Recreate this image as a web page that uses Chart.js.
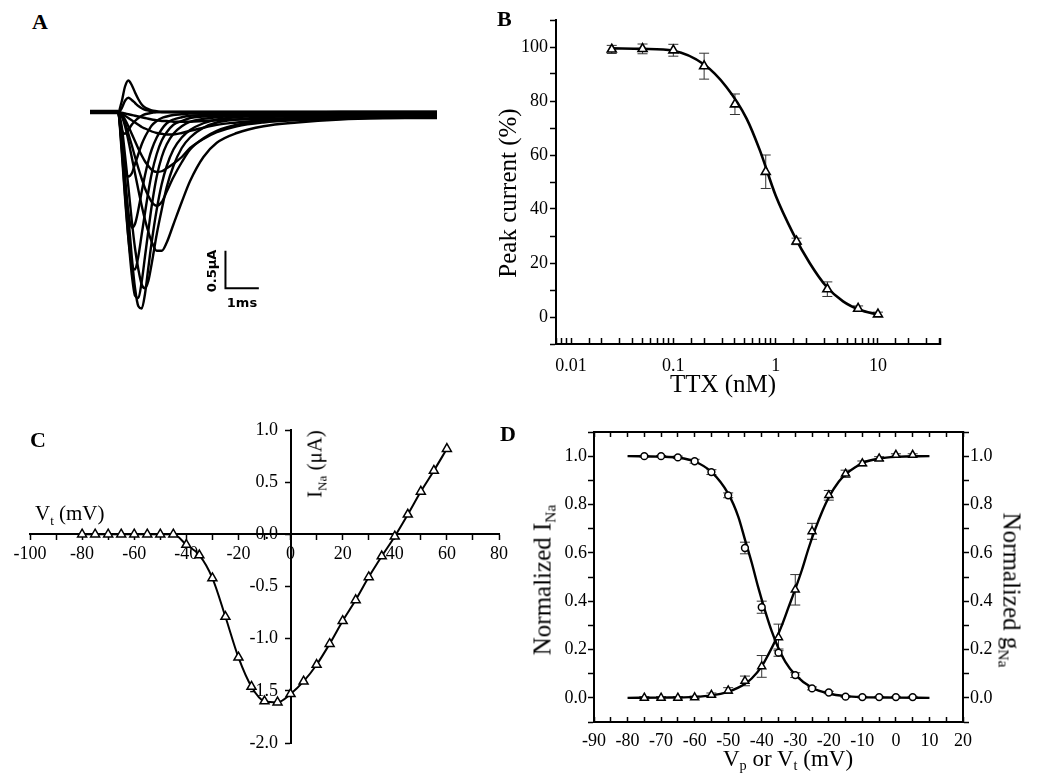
<!DOCTYPE html>
<html>
<head>
<meta charset="utf-8">
<script src="https://cdn.jsdelivr.net/npm/chart.js@4.4.1/dist/chart.umd.min.js"></script>
<style>
body{margin:0;background:#fff;}
#fig{position:relative;width:1037px;height:779px;overflow:hidden;font-family:'Liberation Serif','Times New Roman',serif;color:#000;}
#fig canvas{position:absolute;}
.lab{position:absolute;line-height:1;white-space:nowrap;}
.panel{font-weight:bold;font-size:22px;}
.c{transform:translate(-50%,-50%);}
.rl{transform:translate(-50%,-50%) rotate(-90deg);}
.rr{transform:translate(-50%,-50%) rotate(90deg);}
.bar{font-family:'DejaVu Sans',sans-serif;font-weight:bold;font-size:13px;}
sub{font-size:62%;vertical-align:-0.35em;line-height:0;}
</style>
</head>
<body>
<div id="fig">
  <canvas id="chartA" width="367" height="272" style="left:80px;top:66px"></canvas>
  <canvas id="chartB" width="567" height="400" style="left:470px;top:0px"></canvas>
  <canvas id="chartC" width="520" height="379" style="left:0px;top:400px"></canvas>
  <canvas id="chartD" width="537" height="379" style="left:500px;top:400px"></canvas>

  <div class="lab panel" style="left:32px;top:11px">A</div>
  <div class="lab panel" style="left:497px;top:8px">B</div>
  <div class="lab panel" style="left:30px;top:429px">C</div>
  <div class="lab panel" style="left:500px;top:423px">D</div>

  <div class="lab bar rl" style="left:211px;top:271px">0.5μA</div>
  <div class="lab bar c" style="left:242px;top:302px">1ms</div>

  <div class="lab rl" style="left:507px;top:193px;font-size:25px">Peak current (%)</div>
  <div class="lab c" style="left:723px;top:383px;font-size:25px">TTX (nM)</div>

  <div class="lab" style="left:35px;top:503px;font-size:21px">V<sub>t</sub> (mV)</div>
  <div class="lab rl" style="left:315px;top:464px;font-size:21px">I<sub>Na</sub> (μA)</div>

  <div class="lab rl" style="left:542px;top:580px;font-size:25px">Normalized I<sub>Na</sub></div>
  <div class="lab rr" style="left:1012px;top:590px;font-size:25px">Normalized g<sub>Na</sub></div>
  <div class="lab c" style="left:788px;top:758px;font-size:23px">V<sub>p</sub> or V<sub>t</sub> (mV)</div>
</div>

<script>
// ---- panel A : current traces (time in ms, current in uA) ----
const traceTimes = [0, 0.84, 0.95, 1.05, 1.15, 1.25, 1.35, 1.45, 1.55, 1.65, 1.75, 1.85, 2.0, 2.15, 2.3, 2.5, 2.75, 3.0, 3.4, 3.8, 4.4, 5.2, 6.2, 7.5, 9.0, 10.4];
const traceCurrents = [
  [0,0,-0.01,-0.02,-0.03,-0.04,-0.05,-0.06,-0.07,-0.08,-0.09,-0.1,-0.11,-0.12,-0.12,-0.13,-0.13,-0.13,-0.12,-0.11,-0.1,-0.09,-0.08,-0.07,-0.07,-0.06],
  [0,0,-0.02,-0.05,-0.08,-0.11,-0.14,-0.17,-0.2,-0.22,-0.24,-0.26,-0.28,-0.29,-0.3,-0.3,-0.28,-0.25,-0.21,-0.17,-0.14,-0.11,-0.09,-0.08,-0.07,-0.07],
  [0,0,-0.03,-0.1,-0.19,-0.29,-0.39,-0.49,-0.58,-0.66,-0.72,-0.77,-0.8,-0.79,-0.75,-0.69,-0.6,-0.48,-0.36,-0.27,-0.19,-0.14,-0.11,-0.09,-0.08,-0.08],
  [0,0,-0.05,-0.15,-0.29,-0.44,-0.6,-0.75,-0.89,-1.02,-1.12,-1.2,-1.25,-1.2,-1.06,-0.87,-0.67,-0.5,-0.35,-0.25,-0.17,-0.12,-0.09,-0.07,-0.06,-0.06],
  [0,0,-0.05,-0.19,-0.38,-0.6,-0.82,-1.04,-1.25,-1.44,-1.6,-1.73,-1.85,-1.85,-1.74,-1.5,-1.2,-0.92,-0.6,-0.41,-0.28,-0.19,-0.14,-0.1,-0.08,-0.07],
  [0,0,-0.19,-0.58,-1.0,-1.44,-1.82,-2.1,-2.3,-2.35,-2.25,-2.02,-1.63,-1.3,-1.0,-0.72,-0.48,-0.34,-0.21,-0.14,-0.1,-0.07,-0.06,-0.05,-0.05,-0.05],
  [0,0,-0.34,-0.86,-1.39,-1.92,-2.35,-2.59,-2.62,-2.42,-2.07,-1.73,-1.3,-0.96,-0.72,-0.5,-0.34,-0.24,-0.15,-0.1,-0.07,-0.05,-0.04,-0.04,-0.04,-0.04],
  [0,0,-0.48,-1.1,-1.68,-2.16,-2.45,-2.48,-2.26,-1.92,-1.58,-1.25,-0.86,-0.6,-0.43,-0.29,-0.19,-0.13,-0.09,-0.07,-0.05,-0.04,-0.03,-0.03,-0.03,-0.03],
  [0,0,-0.53,-1.15,-1.68,-2.02,-2.1,-1.92,-1.63,-1.34,-1.06,-0.82,-0.56,-0.38,-0.27,-0.17,-0.12,-0.08,-0.06,-0.05,-0.04,-0.03,-0.03,-0.02,-0.02,-0.02],
  [0,0,-0.43,-0.96,-1.34,-1.54,-1.49,-1.3,-1.06,-0.84,-0.65,-0.5,-0.34,-0.23,-0.15,-0.1,-0.07,-0.05,-0.04,-0.03,-0.02,-0.02,-0.02,-0.01,-0.01,-0.01],
  [0,0,-0.38,-0.72,-0.86,-0.82,-0.69,-0.56,-0.43,-0.33,-0.25,-0.18,-0.12,-0.08,-0.06,-0.04,-0.03,-0.02,-0.02,-0.01,-0.01,-0.01,-0.01,0,0,0],
  [0,0,-0.24,-0.29,-0.24,-0.17,-0.12,-0.08,-0.05,-0.03,-0.02,-0.01,0,0,0,0,0,0,0,0,0,0,0,0,0,0],
  [0,0,0.05,0.15,0.19,0.16,0.12,0.08,0.05,0.03,0.02,0.01,0,0,0,0,0,0,0,0,0,0,0,0,0,0],
  [0,0,0.14,0.34,0.42,0.36,0.26,0.17,0.1,0.06,0.04,0.02,0.01,0,0,0,0,0,0,0,0,0,0,0,0,0]
];
const holdX = [0, 0.84];
const holdY = [0, 0];
const scaleBarX = [4.06, 4.06, 5.06];   // 1 ms
const scaleBarY = [-1.85, -2.35, -2.35]; // 0.5 uA

// ---- panel B : TTX dose response ----
const ttxConc = [0.025, 0.05, 0.1, 0.2, 0.4, 0.8, 1.6, 3.2, 6.4, 10];
const peakCurrent = [99.1, 99.3, 98.8, 92.9, 78.8, 53.8, 28, 10.3, 3.1, 1.0];
const peakErr = [1.5, 1.8, 2.2, 4.8, 3.8, 6.2, 1.2, 2.7, 1.0, 0.8];
const ttxFitX = [0.025, 0.05, 0.1, 0.2, 0.33, 0.52, 0.7, 1.0, 1.48, 2.15, 3.13, 4.56, 6.6, 10];
const ttxFitY = [99.5, 99.3, 98.6, 93.5, 85.2, 73.5, 61.8, 45, 31, 20, 11.3, 5.8, 2.7, 0.9];

// ---- panel C : I-V relation ----
const ivVolt = [-80,-75,-70,-65,-60,-55,-50,-45,-40,-35,-30,-25,-20,-15,-10,-5,0,5,10,15,20,25,30,35,40,45,50,55,60];
const ivCurrent = [0,0,0,0,0,0,0,0,-0.1,-0.2,-0.42,-0.79,-1.18,-1.46,-1.6,-1.61,-1.53,-1.41,-1.25,-1.05,-0.83,-0.63,-0.41,-0.21,-0.02,0.19,0.41,0.61,0.82];

// ---- panel D : inactivation (circles) and activation (triangles) ----
const dVolt = [-75,-70,-65,-60,-55,-50,-45,-40,-35,-30,-25,-20,-15,-10,-5,0,5];
const inactI = [1.0, 1.0, 0.995, 0.979, 0.934, 0.838, 0.62, 0.375, 0.187, 0.094, 0.039, 0.022, 0.005, 0.003, 0.003, 0.003, 0.003];
const inactErr = [0.003, 0.003, 0.005, 0.008, 0.01, 0.01, 0.024, 0.025, 0.015, 0.01, 0.006, 0.005, 0.003, 0.003, 0.003, 0.003, 0.003];
const actG = [0, 0, 0, 0.002, 0.012, 0.03, 0.07, 0.13, 0.25, 0.447, 0.689, 0.838, 0.927, 0.97, 0.99, 1.005, 1.005];
const actErr = [0.005, 0.005, 0.005, 0.005, 0.008, 0.012, 0.02, 0.045, 0.055, 0.063, 0.033, 0.02, 0.015, 0.01, 0.008, 0.005, 0.005];
const inactFitX = [-80,-70,-65,-60,-55,-50,-47,-45,-43,-41,-39,-37,-35,-33,-30,-25,-20,-15,-10,0,10];
const inactFitY = [1.0,0.998,0.994,0.978,0.935,0.845,0.75,0.655,0.56,0.455,0.36,0.275,0.205,0.15,0.095,0.042,0.018,0.007,0.003,0.001,0];
const actFitX = [-80,-70,-60,-55,-50,-47,-45,-43,-40,-38,-36,-34,-32,-30,-28,-26,-24,-22,-20,-17,-15,-12,-10,-5,0,10];
const actFitY = [0,0.001,0.004,0.01,0.025,0.042,0.058,0.08,0.13,0.18,0.235,0.3,0.375,0.45,0.53,0.62,0.7,0.77,0.83,0.895,0.925,0.955,0.972,0.99,0.997,1.0];

const serif = "'Liberation Serif', 'Times New Roman', serif";
const tickFont = {family: serif, size: 18};
Chart.defaults.font.family = serif;

const toXY = (xs, ys) => xs.map((x, i) => ({x: x, y: ys[i]}));

const axisStyle = (tl) => ({
  grid: {display: true, drawOnChartArea: false, drawTicks: true, tickLength: tl, tickColor: '#000', tickWidth: 1.5},
  border: {display: true, color: '#000', width: 2}
});

const errorBars = {
  id: 'errorBars',
  beforeDatasetsDraw(chart) {
    const ctx = chart.ctx;
    chart.data.datasets.forEach((ds, i) => {
      if (!ds.errors) return;
      const meta = chart.getDatasetMeta(i);
      const xs = chart.scales[meta.xAxisID];
      const ys = chart.scales[meta.yAxisID];
      const cap = ds.capWidth || 5;
      ctx.save();
      ctx.strokeStyle = '#333';
      ctx.lineWidth = 1;
      ds.data.forEach((p, j) => {
        const e = ds.errors[j];
        if (!e) return;
        const x = xs.getPixelForValue(p.x);
        const y1 = ys.getPixelForValue(p.y + e);
        const y2 = ys.getPixelForValue(p.y - e);
        ctx.beginPath();
        ctx.moveTo(x, y1); ctx.lineTo(x, y2);
        ctx.moveTo(x - cap, y1); ctx.lineTo(x + cap, y1);
        ctx.moveTo(x - cap, y2); ctx.lineTo(x + cap, y2);
        ctx.stroke();
      });
      ctx.restore();
    });
  }
};

const baseOpts = {
  responsive: false,
  animation: false,
  devicePixelRatio: 1,
  plugins: {legend: {display: false}, tooltip: {enabled: false}}
};

// Panel A
new Chart(document.getElementById('chartA'), {
  type: 'line',
  data: {
    datasets: [
      {data: toXY(holdX, holdY), borderColor: '#000', borderWidth: 4.5, pointRadius: 0},
      ...traceCurrents.map(tr => ({
        data: toXY(traceTimes, tr), borderColor: '#000', borderWidth: 2.4,
        pointRadius: 0, cubicInterpolationMode: 'monotone'
      })),
      {data: toXY(scaleBarX, scaleBarY), borderColor: '#000', borderWidth: 2, pointRadius: 0}
    ]
  },
  options: {
    ...baseOpts,
    layout: {padding: 10},
    scales: {
      x: {type: 'linear', min: 0, max: 10.4, display: false},
      y: {min: -2.88, max: 0.48, display: false}
    }
  }
});

// Panel B
new Chart(document.getElementById('chartB'), {
  type: 'line',
  data: {
    datasets: [
      {data: toXY(ttxConc, peakCurrent), showLine: false, pointStyle: 'triangle', pointRadius: 5.2,
       pointBackgroundColor: '#fff', pointBorderColor: '#000', pointBorderWidth: 1.6,
       errors: peakErr, capWidth: 5},
      {data: toXY(ttxFitX, ttxFitY), borderColor: '#000', borderWidth: 2.6, pointRadius: 0,
       cubicInterpolationMode: 'monotone'}
    ]
  },
  options: {
    ...baseOpts,
    layout: {padding: {top: 20, right: 97, left: 0, bottom: 0}},
    scales: {
      x: {
        type: 'logarithmic', min: 0.00713, max: 40.4, ...axisStyle(-6),
        ticks: {autoSkip: false, maxRotation: 0, font: tickFont, color: '#000', padding: 17,
          callback: (v) => {
            const l = Math.log10(v);
            return Math.abs(l - Math.round(l)) < 1e-6 ? ['0.01', '0.1', '1', '10'][Math.round(l) + 2] : '';
          }},
        afterFit: (s) => { s.height = 56; }
      },
      y: {
        min: -10, max: 110, ...axisStyle(6),
        ticks: {stepSize: 10, font: tickFont, color: '#000', padding: 2,
          callback: (v) => (v % 20 === 0 && v >= 0 && v <= 100) ? v : ''},
        afterFit: (s) => { s.width = 86; }
      }
    }
  },
  plugins: [errorBars]
});

// Panel C
new Chart(document.getElementById('chartC'), {
  type: 'line',
  data: {
    datasets: [
      {data: toXY(ivVolt, ivCurrent), borderColor: '#000', borderWidth: 2, cubicInterpolationMode: 'monotone',
       pointStyle: 'triangle', pointRadius: 5.2, pointBackgroundColor: '#fff', pointBorderColor: '#000',
       pointBorderWidth: 1.5}
    ]
  },
  options: {
    ...baseOpts,
    layout: {padding: {left: 30, right: 21, top: 30, bottom: 36}},
    scales: {
      x: {
        type: 'linear', min: -100, max: 80, position: {y: 0}, ...axisStyle(5),
        ticks: {stepSize: 10, autoSkip: false, maxRotation: 0, font: tickFont, color: '#000', padding: 4,
          callback: (v) => v % 20 === 0 ? v : ''}
      },
      y: {
        min: -2, max: 1, position: {x: 0}, ...axisStyle(5),
        // centre-positioned axis ignores padding, so a little trailing space keeps labels off the axis
        ticks: {stepSize: 0.5, font: tickFont, color: '#000', padding: 8,
          callback: (v) => v.toFixed(1) + '\u2002\u2009'}
      }
    }
  }
});

// Panel D
const dTick = (v) => {
  const r = Math.round(v * 10);
  return (r % 2 === 0 && r >= 0 && r <= 10) ? (r / 10).toFixed(1) : '';
};
new Chart(document.getElementById('chartD'), {
  type: 'line',
  data: {
    datasets: [
      {data: toXY(dVolt, inactI), showLine: false, pointStyle: 'circle', pointRadius: 3.4,
       pointBackgroundColor: '#fff', pointBorderColor: '#000', pointBorderWidth: 1.5,
       errors: inactErr, capWidth: 5},
      {data: toXY(dVolt, actG), showLine: false, pointStyle: 'triangle', pointRadius: 4.6,
       pointBackgroundColor: '#fff', pointBorderColor: '#000', pointBorderWidth: 1.5,
       errors: actErr, capWidth: 5},
      {data: toXY(inactFitX, inactFitY), borderColor: '#000', borderWidth: 2.4, pointRadius: 0,
       cubicInterpolationMode: 'monotone'},
      {data: toXY(actFitX, actFitY), borderColor: '#000', borderWidth: 2.4, pointRadius: 0,
       cubicInterpolationMode: 'monotone'}
    ]
  },
  options: {
    ...baseOpts,
    layout: {padding: {top: 32, left: 0, right: 0, bottom: 0}},
    scales: {
      x: {
        type: 'linear', min: -90, max: 20, position: 'bottom', ...axisStyle(-5),
        ticks: {stepSize: 5, autoSkip: false, maxRotation: 0, font: tickFont, color: '#000', padding: 13,
          callback: (v) => v % 10 === 0 ? v : ''},
        afterFit: (s) => { s.height = 57; }
      },
      xTop: {
        type: 'linear', min: -90, max: 20, position: 'top', ...axisStyle(-5),
        ticks: {stepSize: 5, display: false, autoSkip: false},
        afterFit: (s) => { s.height = 0; }
      },
      y: {
        min: -0.1, max: 1.1, position: 'left', ...axisStyle(6),
        ticks: {stepSize: 0.1, autoSkip: false, font: tickFont, color: '#000', padding: 1, callback: dTick},
        afterFit: (s) => { s.width = 94; }
      },
      y2: {
        min: -0.1, max: 1.1, position: 'right', ...axisStyle(6),
        ticks: {stepSize: 0.1, autoSkip: false, font: tickFont, color: '#000', padding: 1, callback: dTick},
        afterFit: (s) => { s.width = 74; }
      }
    }
  },
  plugins: [errorBars]
});
</script>
</body>
</html>
